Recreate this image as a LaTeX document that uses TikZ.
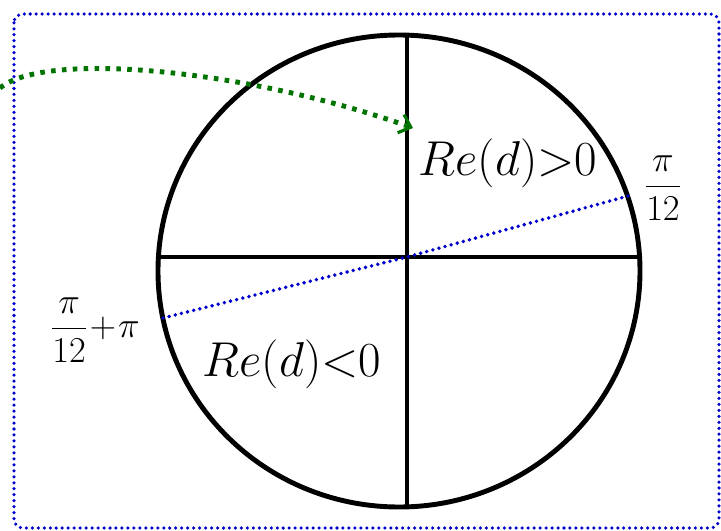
\documentclass[tikz,border=0pt]{standalone}
\usepackage{graphicx}
\usepackage{amsmath, amssymb}
\usetikzlibrary{arrows.meta}
\tikzset{
  rim/.style={black, line width=2.8pt},
  axis/.style={black, line width=2.3pt},
  angleline/.style={blue!80!black, line width=2.2pt, line cap=round, dash pattern=on 0pt off 3.6pt},
  frame/.style={blue!80!black, line width=2pt, line cap=round, dash pattern=on 0pt off 3.4pt, rounded corners=5pt},
  pointer/.style={green!45!black, line width=2.8pt, dash pattern=on 2.6pt off 3.6pt,
    -{Straight Barb[length=6pt, width=11pt, line width=1.8pt]}},
  region/.style={font=\Huge},
  anglelbl/.style={font=\huge},
}
\newcommand{\regtext}[1]{\scalebox{1.12}{#1}}

\begin{document}
\begin{tikzpicture}[x=0.02cm, y=-0.02cm]

%% ─── Canvas ────────────────────────────────────────────────────────────────
\useasboundingbox (0,0) rectangle (721,531);
\draw[frame] (14,14) rectangle (719,528);

%% ─── Points ────────────────────────────────────────────────────────────────
\coordinate (O)   at (407,257);
\coordinate (top) at (407,35);
\coordinate (bot) at (407,508);
\coordinate (lft) at (158,257);
\coordinate (rgt) at (640,257);
\coordinate (p1)  at (628,196);
\coordinate (p2)  at (163,318);
\coordinate (gstart) at (0,88);
\coordinate (gtip)   at (413,128);

%% ─── Circle and axes ───────────────────────────────────────────────────────
\draw[rim] (399,271) ellipse [x radius=241, y radius=236];
\draw[axis] (top) -- (bot);
\draw[axis] (lft) -- (rgt);

%% ─── Angle line pi/12 ──────────────────────────────────────────────────────
\draw[angleline] (p2) -- (O) -- (p1);

%% ─── Labels ────────────────────────────────────────────────────────────────
\node[region] (repos) at (508,163) {\regtext{$Re(d){>}0$}};
\node[region] (reneg) at (292,364) {\regtext{$Re(d){<}0$}};
\node[anglelbl] (ang1) at (663,188) {$\dfrac{\pi}{12}$};
\node[anglelbl] (ang2) at (95,330) {$\dfrac{\pi}{12}\!+\!\pi$};

%% ─── Pointer ───────────────────────────────────────────────────────────────
\draw[pointer] (gstart) .. controls (45,50) and (250,70) .. (gtip);

\end{tikzpicture}
\end{document}
